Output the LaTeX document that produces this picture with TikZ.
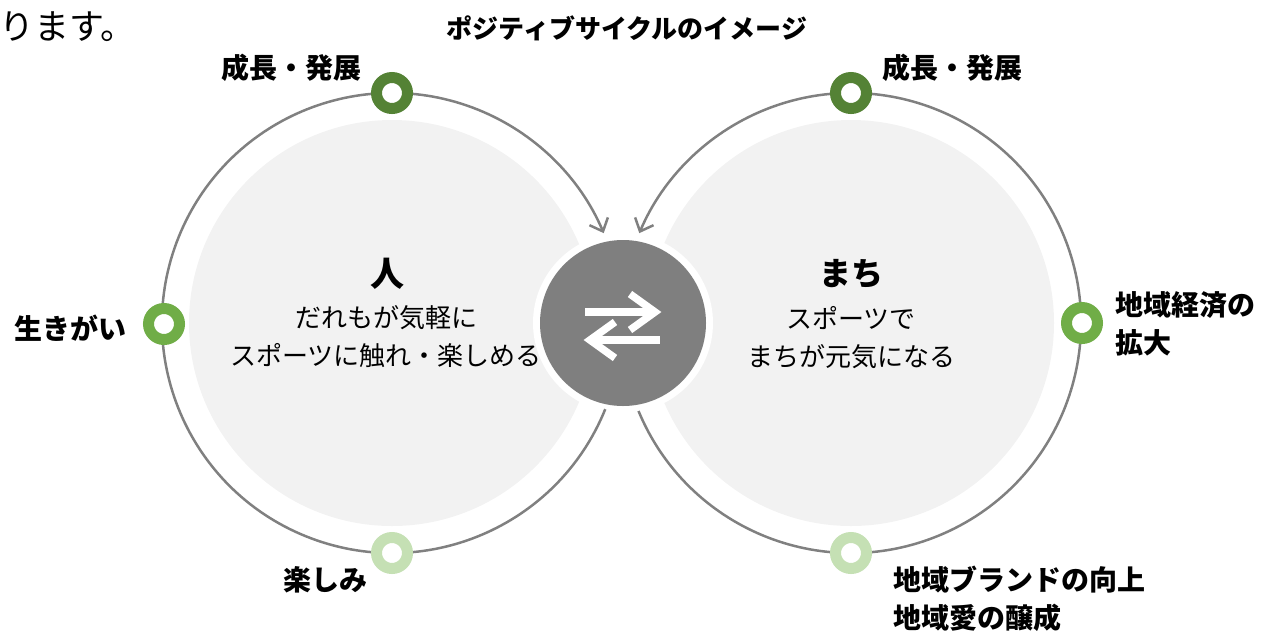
\documentclass[tikz,border=0pt]{standalone}
\usepackage{fontspec}
\newfontfamily\jp{Noto Sans CJK JP}
\usetikzlibrary{arrows.meta,calc}
\definecolor{ringgray}{HTML}{808080}
\definecolor{lightbg}{HTML}{F2F2F2}
\definecolor{centergray}{HTML}{7F7F7F}
\definecolor{dkgreen}{HTML}{548235}
\definecolor{mdgreen}{HTML}{70AD47}
\definecolor{ltgreen}{HTML}{C5E0B4}
\begin{document}
\begin{tikzpicture}[x=1pt,y=1pt,
  lbl/.style={font=\jp\bfseries\fontsize{28}{38}\selectfont, inner sep=0pt, text=black},
  body/.style={font=\jp\fontsize{26}{38}\selectfont, inner sep=0pt, align=center},
  headtxt/.style={font=\jp\bfseries\fontsize{#1}{#1}\selectfont, inner sep=0pt},
  marker/.style={circle, minimum size=31pt, inner sep=0pt, draw=#1, line width=11pt, fill=white},
  ringline/.style={draw=ringgray, line width=2.5pt},
  barbtip/.style={-{Straight Barb[length=11pt,width=20pt]}},
  iconline/.style={white, line width=7.5pt, miter limit=10}
]
\useasboundingbox (0,0) rectangle (1272,-630);
\coordinate (Lc) at (392,-323);
\coordinate (Rc) at (851,-323);
% background circles
\fill[lightbg] (Lc) circle[radius=203pt];
\fill[lightbg] (Rc) circle[radius=203pt];
\node[circle, fill=white, minimum size=180pt, inner sep=0pt] (hubbg) at (623,-323) {};
\node[circle, fill=centergray, minimum size=166pt, inner sep=0pt] (hub) at (623,-323) {};
% ring arcs
\coordinate (Lstart) at ($(Lc)+(338:230pt)$);
\coordinate (Rstart) at ($(Rc)+(-157.5:230pt)$);
\draw[ringline, barbtip] (Lstart) arc[start angle=338, end angle=23, radius=230pt];
\draw[ringline, barbtip] (Rstart) arc[start angle=-157.5, end angle=157, radius=230pt];
% markers
\node[marker=dkgreen] (Ltop) at (392,-93) {};
\node[marker=mdgreen] (Lleft) at (164,-324) {};
\node[marker=ltgreen] (Lbot) at (392,-553) {};
\node[marker=dkgreen] (Rtop) at (851,-93) {};
\node[marker=mdgreen] (Rright) at (1082,-323) {};
\node[marker=ltgreen] (Rbot) at (851,-553) {};
% exchange icon
\draw[iconline] (585,-312) -- (652,-312);
\draw[iconline] (630,-294) -- (655,-312) -- (630,-330);
\draw[iconline] (595,-340) -- (660,-340);
\draw[iconline] (615,-322) -- (590,-340) -- (615,-358);
% labels
\node[font=\jp\fontsize{35}{38}\selectfont, anchor=west, inner sep=0pt] (prev) at (-1,-27) {ります。};
\node[headtxt=26] (title) at (627,-28) {ポジティブサイクルのイメージ};
\node[lbl] (lLtop) at (291,-68) {成長・発展};
\node[lbl] (lRtop) at (952,-68) {成長・発展};
\node[lbl] (lLleft) at (70,-328) {生きがい};
\node[lbl] (lLbot) at (325,-580) {楽しみ};
\node[lbl, anchor=west, align=left] (lRright) at (1115,-324) {地域経済の\\拡大};
\node[lbl, anchor=west, align=left] (lRbot) at (893,-599) {地域ブランドの向上\\地域愛の醸成};
% centre texts
\node[headtxt=34] (hito) at (387,-274) {人};
\node[body] (hitotxt) at (386,-337) {だれもが気軽に\\スポーツに触れ・楽しめる};
\node[headtxt=32] (machi) at (851,-274) {まち};
\node[body] (machitxt) at (851,-338) {スポーツで\\まちが元気になる};
\end{tikzpicture}
\end{document}
